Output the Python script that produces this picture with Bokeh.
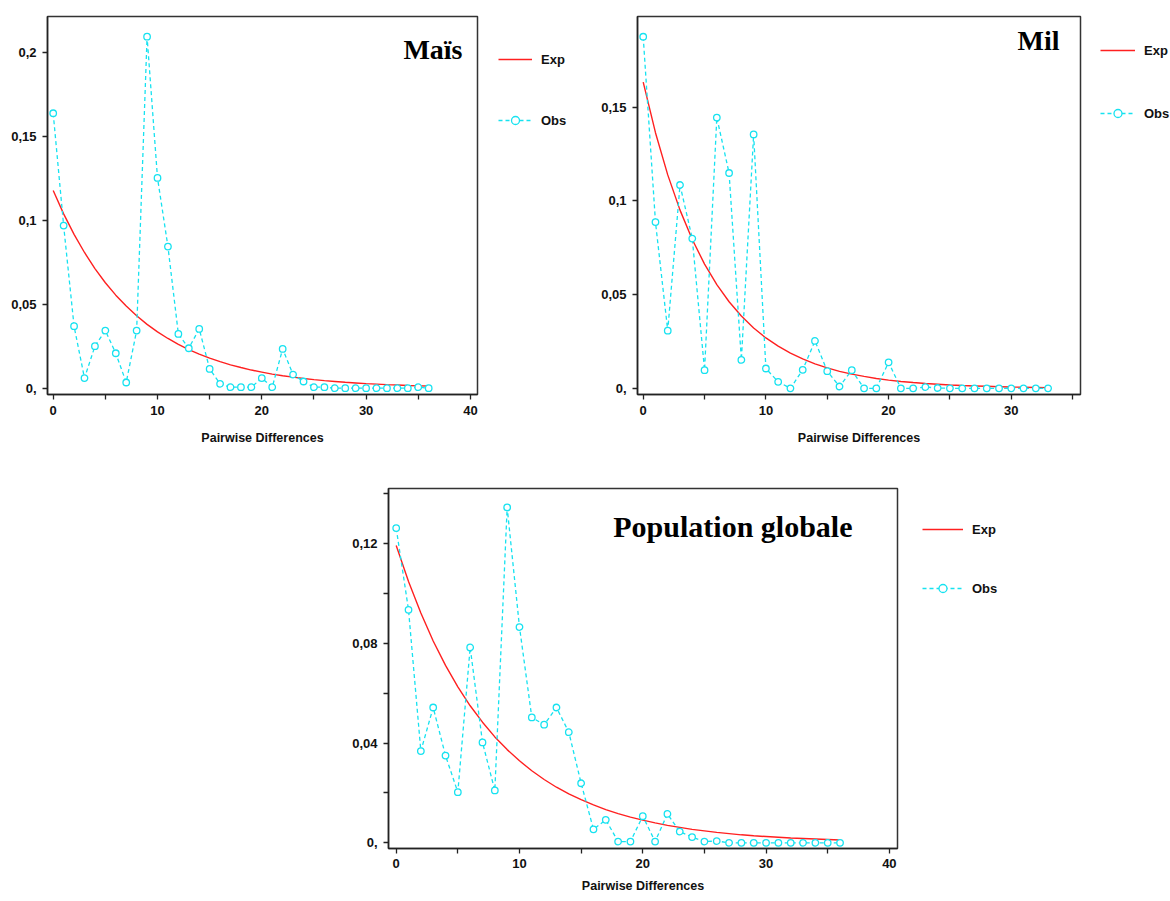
from bokeh.plotting import figure
from bokeh.models import Range1d, FixedTicker, Legend, LegendItem, Label, Spacer
from bokeh.layouts import column, row
from bokeh.embed import file_html
from bokeh.resources import INLINE

# ---------------- data ----------------
mais_diff = list(range(37))
mais_obs = [0.1637, 0.0968, 0.0369, 0.0060, 0.0250, 0.0343, 0.0208, 0.0034, 0.0343, 0.2093,
            0.1252, 0.0843, 0.0323, 0.0238, 0.0353, 0.0115, 0.0026, 0.0006, 0.0006, 0.0006,
            0.0060, 0.0006, 0.0234, 0.0081, 0.0040, 0.0006, 0.0006, 0.0, 0.0, 0.0,
            0.0, 0.0, 0.0, 0.0, 0.0, 0.0006, 0.0]
mais_exp = [0.1177, 0.1038, 0.0916, 0.0808, 0.0712, 0.0628, 0.0554, 0.0489, 0.0431, 0.0380,
            0.0335, 0.0296, 0.0261, 0.0230, 0.0203, 0.0179, 0.0158, 0.0139, 0.0123, 0.0108,
            0.0096, 0.0084, 0.0074, 0.0066, 0.0058, 0.0051, 0.0045, 0.0040, 0.0035, 0.0031,
            0.0027, 0.0024, 0.0021, 0.0019, 0.0016, 0.0014, 0.0013]

mil_diff = list(range(34))
mil_obs = [0.1876, 0.0887, 0.0308, 0.1085, 0.0799, 0.0097, 0.1445, 0.1149, 0.0152, 0.1355,
           0.0106, 0.0035, 0.0, 0.0099, 0.0253, 0.0092, 0.0010, 0.0097, 0.0, 0.0,
           0.0139, 0.0, 0.0, 0.0007, 0.0002, 0.0, 0.0, 0.0, 0.0, 0.0,
           0.0, 0.0, 0.0, 0.0]
mil_exp = [0.1634, 0.1364, 0.1139, 0.0951, 0.0794, 0.0663, 0.0554, 0.0462, 0.0386, 0.0322,
           0.0269, 0.0225, 0.0188, 0.0157, 0.0131, 0.0109, 0.0091, 0.0076, 0.0064, 0.0053,
           0.0044, 0.0037, 0.0031, 0.0026, 0.0022, 0.0018, 0.0015, 0.0013, 0.0011, 0.0009,
           0.0007, 0.0006, 0.0005, 0.0004]

pop_diff = list(range(37))
pop_obs = [0.1263, 0.0935, 0.0368, 0.0543, 0.0350, 0.0203, 0.0784, 0.0403, 0.0210, 0.1346,
           0.0866, 0.0503, 0.0474, 0.0543, 0.0444, 0.0239, 0.0054, 0.0092, 0.0005, 0.0005,
           0.0107, 0.0005, 0.0116, 0.0045, 0.0023, 0.0005, 0.0007, 0.0, 0.0, 0.0,
           0.0, 0.0, 0.0, 0.0, 0.0, 0.0, 0.0]
pop_exp = [0.1193, 0.1049, 0.0922, 0.0810, 0.0712, 0.0626, 0.0550, 0.0484, 0.0425, 0.0374,
           0.0329, 0.0289, 0.0254, 0.0223, 0.0196, 0.0173, 0.0152, 0.0133, 0.0117, 0.0103,
           0.0091, 0.0080, 0.0070, 0.0062, 0.0054, 0.0048, 0.0042, 0.0037, 0.0032, 0.0028,
           0.0025, 0.0022, 0.0019, 0.0017, 0.0015, 0.0013, 0.0011]

titles = ["Maïs", "Mil", "Population globale"]
x_label = "Pairwise Differences"
series_names = ["Exp", "Obs"]

mais_xticks = [0, 10, 20, 30, 40]
mais_xminor = [5, 15, 25, 35]
mais_yticks = [0, 0.05, 0.1, 0.15, 0.2]
mais_ylabels = ["0,", "0,05", "0,1", "0,15", "0,2"]

mil_xticks = [0, 10, 20, 30]
mil_xminor = [5, 15, 25, 35]
mil_yticks = [0, 0.05, 0.1, 0.15]
mil_ylabels = ["0,", "0,05", "0,1", "0,15"]

pop_xticks = [0, 10, 20, 30, 40]
pop_xminor = [5, 15, 25, 35]
pop_yticks = [0, 0.04, 0.08, 0.12]
pop_yminor = [0.02, 0.06, 0.10, 0.14]
pop_ylabels = ["0,", "0,04", "0,08", "0,12"]

# ---------------- style ----------------
RED = "#ff2020"
CYAN = "#16e2f0"
TICK_FONT = "Liberation Sans"
TITLE_FONT = "Liberation Serif"


def styled_renderers(p, xs, obs, exp):
    exp_r = p.line(xs, exp, line_color=RED, line_width=1.4)
    obs_l = p.line(xs, obs, line_color=CYAN, line_width=1.3, line_dash="4 3")
    obs_s = p.scatter(xs, obs, marker="circle", size=6.5, line_color=CYAN, line_width=1.3,
                      fill_color="white")
    return exp_r, obs_l, obs_s


def make_panel(xs, obs, exp, title, xr, yr, xticks, xminor, yticks, ylabels, yminor,
               width, height, borders, title_pos, title_size, tick_standoff, xlabel_standoff):
    bl, br, bt, bb = borders
    p = figure(width=width, height=height, output_backend="svg", toolbar_location=None,
               x_range=Range1d(*xr), y_range=Range1d(*yr),
               min_border_left=bl, min_border_right=br, min_border_top=bt, min_border_bottom=bb)
    p.xgrid.visible = False
    p.ygrid.visible = False
    p.outline_line_color = "#333333"
    p.outline_line_width = 1.5

    styled_renderers(p, xs, obs, exp)

    xa = p.xaxis[0]
    xa.ticker = FixedTicker(ticks=xticks, minor_ticks=xminor)
    xa.axis_label = x_label
    for a in (xa, p.yaxis[0]):
        a.axis_line_color = "#222222"
        a.axis_line_width = 1.5
        a.major_tick_in = 0
        a.major_tick_out = 5
        a.minor_tick_in = 0
        a.major_tick_line_color = "#222222"
        a.minor_tick_line_color = "#222222"
        a.major_tick_line_width = 1.3
        a.minor_tick_line_width = 1.3
        a.major_label_text_font = TICK_FONT
        a.major_label_text_font_style = "bold"
        a.major_label_text_font_size = "13px"
        a.major_label_text_color = "#111111"
    xa.minor_tick_out = 5
    xa.major_label_standoff = tick_standoff
    xa.axis_label_text_font = TICK_FONT
    xa.axis_label_text_font_style = "bold"
    xa.axis_label_text_font_size = "12.5px"
    xa.axis_label_text_color = "#111111"
    xa.axis_label_standoff = xlabel_standoff

    ya = p.yaxis[0]
    ya.ticker = FixedTicker(ticks=yticks, minor_ticks=yminor)
    ya.minor_tick_out = 5 if yminor else 0
    ya.major_label_standoff = 6
    ya.major_label_overrides = {t: s for t, s in zip(yticks, ylabels)}

    lab = Label(x=title_pos[0], y=title_pos[1], x_units="screen", y_units="screen",
                text=title, text_font=TITLE_FONT, text_font_style="bold",
                text_font_size=title_size, text_align="right", text_baseline="alphabetic",
                text_color="black")
    p.add_layout(lab)
    return p


def make_legend(width, height, xs, obs, exp, loc, spacing, gw):
    # a narrow, axis-less figure that only carries the legend; its series are
    # kept outside its (empty) view so that only the legend samples show
    q = figure(width=width, height=height, output_backend="svg", toolbar_location=None,
               x_axis_type=None, y_axis_type=None, min_border=0,
               x_range=Range1d(-200, -199), y_range=Range1d(-200, -199))
    q.xgrid.visible = False
    q.ygrid.visible = False
    q.outline_line_color = None
    exp_r, obs_l, obs_s = styled_renderers(q, xs, obs, exp)
    legend = Legend(items=[LegendItem(label=series_names[0], renderers=[exp_r]),
                           LegendItem(label=series_names[1], renderers=[obs_l, obs_s])],
                    location=loc, orientation="vertical", spacing=spacing,
                    padding=0, margin=0, glyph_width=gw, glyph_height=20,
                    label_height=20, label_standoff=9, border_line_color=None,
                    background_fill_alpha=0, label_text_font=TICK_FONT,
                    label_text_font_style="bold", label_text_font_size="13px",
                    label_text_color="#111111")
    q.add_layout(legend)
    return q


p1 = make_panel(mais_diff, mais_obs, mais_exp, titles[0],
                (-0.547, 40.68), (-0.00375, 0.2213),
                mais_xticks, mais_xminor, mais_yticks, mais_ylabels, [],
                width=480, height=460, borders=(47, 3, 16, 66),
                title_pos=(415, 345), title_size="28px",
                tick_standoff=6, xlabel_standoff=13)
l1 = make_legend(106, 460, mais_diff, mais_obs, mais_exp, (18, 264), 41, 34)

p2 = make_panel(mil_diff, mil_obs, mil_exp, titles[1],
                (-0.465, 35.64), (-0.00327, 0.1984),
                mil_xticks, mil_xminor, mil_yticks, mil_ylabels, [],
                width=497, height=460, borders=(51, 3, 6, 66),
                title_pos=(422, 354), title_size="28px",
                tick_standoff=6, xlabel_standoff=13)
l2 = make_legend(87, 460, mil_diff, mil_obs, mil_exp, (17, 271), 43, 35)

p3 = make_panel(pop_diff, pop_obs, pop_exp, titles[2],
                (-0.624, 40.66), (-0.00229, 0.1422),
                pop_xticks, pop_xminor, pop_yticks, pop_ylabels, pop_yminor,
                width=570, height=438, borders=(58, 3, 28, 50),
                title_pos=(464, 322), title_size="30px",
                tick_standoff=5, xlabel_standoff=8)
l3 = make_legend(110, 438, pop_diff, pop_obs, pop_exp, (22, 250), 39, 41)

layout = column(row(p1, l1, p2, l2), row(Spacer(width=330, height=438), p3, l3))

open("out.html", "w").write(file_html(layout, INLINE))
